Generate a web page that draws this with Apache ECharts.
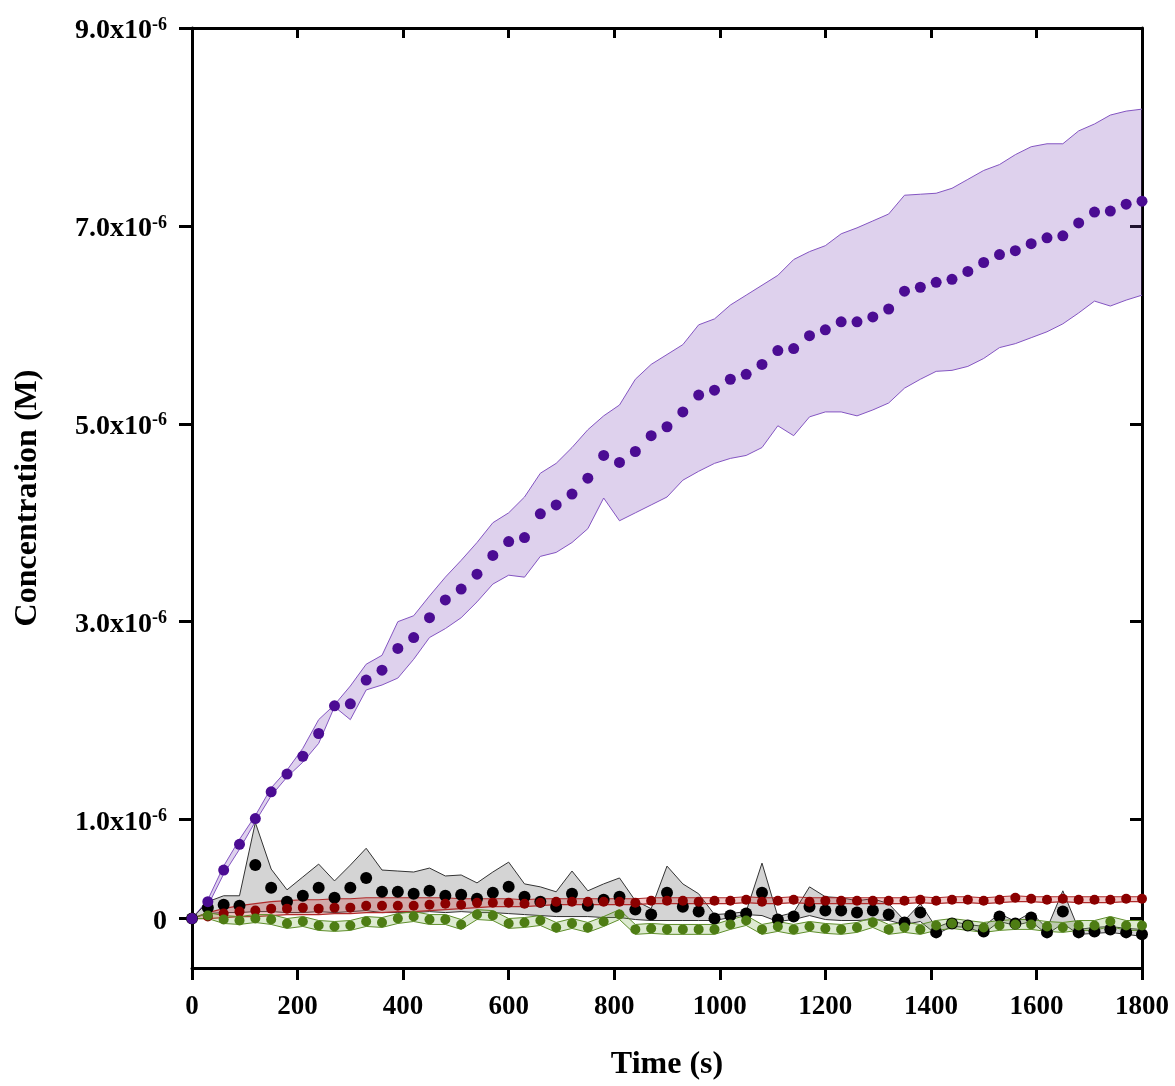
<!DOCTYPE html>
<html>
<head>
<meta charset="utf-8">
<title>Concentration vs time</title>
<script src="https://cdn.jsdelivr.net/npm/echarts@6/dist/echarts.min.js"></script>
<style>
  html, body { margin: 0; padding: 0; background: #fff; }
  #main { width: 1175px; height: 1086px; }
</style>
</head>
<body>
<div id="main"></div>
<script>
// all concentrations below are in units of 1e-6 M
const time = [0, 30, 60, 90, 120, 150, 180, 210, 240, 270, 300, 330, 360, 390, 420, 450, 480, 510, 540, 570,
  600, 630, 660, 690, 720, 750, 780, 810, 840, 870, 900, 930, 960, 990, 1020, 1050, 1080, 1110, 1140, 1170,
  1200, 1230, 1260, 1290, 1320, 1350, 1380, 1410, 1440, 1470, 1500, 1530, 1560, 1590, 1620, 1650, 1680, 1710, 1740, 1770, 1800];

// purple
const purpleMean = [0, 0.17, 0.49, 0.75, 1.01, 1.28, 1.46, 1.64, 1.87, 2.15, 2.17, 2.41, 2.51, 2.73, 2.84, 3.04, 3.22, 3.33, 3.48, 3.67,
  3.81, 3.85, 4.09, 4.18, 4.29, 4.45, 4.68, 4.61, 4.72, 4.88, 4.97, 5.12, 5.29, 5.34, 5.45, 5.50, 5.60, 5.74, 5.76, 5.89,
  5.95, 6.03, 6.03, 6.08, 6.16, 6.34, 6.38, 6.43, 6.46, 6.54, 6.63, 6.71, 6.75, 6.82, 6.88, 6.90, 7.03, 7.14, 7.15, 7.22, 7.25];
const purpleHigh = [0, 0.19, 0.53, 0.80, 1.04, 1.32, 1.50, 1.72, 2.01, 2.16, 2.35, 2.57, 2.66, 3.00, 3.06, 3.26, 3.45, 3.62, 3.80, 4.00,
  4.10, 4.26, 4.50, 4.60, 4.76, 4.94, 5.08, 5.19, 5.45, 5.60, 5.70, 5.80, 6.00, 6.06, 6.20, 6.30, 6.40, 6.50, 6.66, 6.74,
  6.80, 6.92, 6.98, 7.05, 7.12, 7.31, 7.32, 7.33, 7.38, 7.47, 7.56, 7.62, 7.72, 7.80, 7.83, 7.83, 7.96, 8.03, 8.12, 8.16, 8.18];
const purpleLow = [0, 0.13, 0.45, 0.70, 0.98, 1.24, 1.43, 1.58, 1.77, 2.14, 2.01, 2.31, 2.36, 2.43, 2.62, 2.84, 2.93, 3.04, 3.20, 3.38,
  3.47, 3.45, 3.66, 3.70, 3.80, 3.94, 4.25, 4.02, 4.10, 4.18, 4.26, 4.43, 4.52, 4.60, 4.65, 4.68, 4.76, 4.98, 4.88, 5.07,
  5.12, 5.12, 5.08, 5.14, 5.21, 5.36, 5.45, 5.53, 5.54, 5.58, 5.66, 5.77, 5.81, 5.87, 5.93, 6.01, 6.12, 6.24, 6.19, 6.25, 6.30];

// black / grey
const blackMean = [0, 0.11, 0.14, 0.13, 0.54, 0.31, 0.17, 0.23, 0.31, 0.21, 0.31, 0.41, 0.27, 0.27, 0.25, 0.28, 0.23, 0.24, 0.20, 0.26,
  0.32, 0.22, 0.17, 0.12, 0.25, 0.13, 0.19, 0.22, 0.09, 0.04, 0.26, 0.12, 0.07, 0, 0.03, 0.05, 0.26, -0.01, 0.02, 0.12,
  0.08, 0.08, 0.06, 0.08, 0.04, -0.04, 0.06, -0.14, -0.05, -0.07, -0.13, 0.02, -0.05, 0.01, -0.14, 0.07, -0.14, -0.13, -0.11, -0.14, -0.16];
const blackHigh = [0, 0.17, 0.23, 0.23, 0.97, 0.50, 0.29, 0.42, 0.55, 0.38, 0.54, 0.71, 0.49, 0.48, 0.47, 0.51, 0.43, 0.44, 0.36, 0.47,
  0.57, 0.35, 0.32, 0.27, 0.48, 0.28, 0.35, 0.41, 0.18, 0.10, 0.53, 0.35, 0.25, 0.04, 0.05, 0.07, 0.56, 0.02, 0.06, 0.32,
  0.22, 0.21, 0.18, 0.20, 0.15, -0.02, 0.15, -0.09, -0.03, -0.06, -0.08, 0.05, -0.03, 0.06, -0.10, 0.28, -0.11, -0.09, -0.08, -0.10, -0.11];
const blackLow = [0, 0.05, 0.06, 0.06, 0.07, 0.07, 0.06, 0.06, 0.07, 0.06, 0.07, 0.08, 0.06, 0.06, 0.06, 0.07, 0.06, 0.07, 0.06, 0.06,
  0.05, 0.04, 0.03, 0.02, 0.02, 0.02, 0.01, 0.01, -0.01, -0.02, -0.02, -0.02, -0.02, -0.02, 0.01, 0.04, 0.03, -0.03, -0.01, 0.03,
  -0.01, -0.02, -0.02, -0.01, -0.02, -0.06, -0.03, -0.16, -0.08, -0.09, -0.15, -0.03, -0.07, -0.03, -0.16, -0.05, -0.16, -0.15, -0.14, -0.16, -0.18];

// red
const redMean = [0, 0.02, 0.05, 0.07, 0.08, 0.10, 0.10, 0.11, 0.10, 0.11, 0.11, 0.13, 0.13, 0.13, 0.13, 0.14, 0.15, 0.14, 0.16, 0.16,
  0.16, 0.15, 0.16, 0.17, 0.17, 0.17, 0.17, 0.17, 0.16, 0.18, 0.18, 0.18, 0.17, 0.18, 0.18, 0.19, 0.17, 0.18, 0.19, 0.17,
  0.18, 0.18, 0.18, 0.18, 0.18, 0.18, 0.19, 0.18, 0.19, 0.19, 0.18, 0.19, 0.21, 0.20, 0.19, 0.20, 0.19, 0.19, 0.19, 0.20, 0.20];
const redHigh = [0, 0.06, 0.10, 0.13, 0.15, 0.17, 0.18, 0.19, 0.19, 0.20, 0.20, 0.21, 0.21, 0.21, 0.21, 0.21, 0.21, 0.20, 0.20, 0.20,
  0.20, 0.19, 0.20, 0.20, 0.20, 0.20, 0.20, 0.20, 0.20, 0.21, 0.21, 0.21, 0.21, 0.21, 0.21, 0.22, 0.21, 0.21, 0.22, 0.21,
  0.21, 0.21, 0.21, 0.21, 0.21, 0.21, 0.22, 0.21, 0.22, 0.22, 0.21, 0.22, 0.23, 0.22, 0.22, 0.22, 0.22, 0.22, 0.22, 0.22, 0.22];
const redLow = [0, 0, 0.01, 0.02, 0.02, 0.03, 0.04, 0.04, 0.04, 0.05, 0.05, 0.06, 0.06, 0.07, 0.07, 0.08, 0.09, 0.10, 0.11, 0.12,
  0.12, 0.12, 0.13, 0.14, 0.14, 0.14, 0.14, 0.14, 0.14, 0.15, 0.15, 0.15, 0.15, 0.15, 0.15, 0.16, 0.15, 0.15, 0.16, 0.15,
  0.15, 0.15, 0.15, 0.15, 0.15, 0.15, 0.16, 0.15, 0.16, 0.16, 0.15, 0.16, 0.17, 0.17, 0.16, 0.17, 0.16, 0.16, 0.16, 0.17, 0.17];

// green
const greenMean = [0, 0.03, -0.01, -0.02, 0, -0.01, -0.05, -0.03, -0.07, -0.08, -0.07, -0.03, -0.04, 0, 0.02, -0.01, -0.01, -0.06, 0.04, 0.03,
  -0.05, -0.04, -0.02, -0.09, -0.05, -0.09, -0.03, 0.04, -0.11, -0.10, -0.11, -0.11, -0.11, -0.11, -0.06, -0.02, -0.11, -0.08, -0.11, -0.08,
  -0.10, -0.11, -0.09, -0.04, -0.11, -0.09, -0.11, -0.07, -0.05, -0.07, -0.09, -0.07, -0.06, -0.06, -0.08, -0.09, -0.07, -0.07, -0.03, -0.07, -0.07];
const greenHigh = [0, 0.06, 0.03, 0.02, 0.04, 0.04, 0, 0.02, -0.02, -0.03, -0.02, 0.02, 0.01, 0.05, 0.07, 0.04, 0.04, -0.01, 0.09, 0.08,
  0, 0.01, 0.03, -0.04, 0, -0.04, 0.02, 0.09, -0.06, -0.05, -0.06, -0.06, -0.06, -0.06, -0.01, 0.03, -0.06, -0.03, -0.06, -0.03,
  -0.05, -0.06, -0.04, 0.01, -0.06, -0.04, -0.06, -0.02, 0, -0.02, -0.04, -0.02, -0.01, -0.01, -0.03, -0.04, -0.02, -0.02, 0.02, -0.02, -0.02];
const greenLow = [0, 0, -0.05, -0.06, -0.04, -0.06, -0.10, -0.08, -0.12, -0.13, -0.12, -0.08, -0.09, -0.05, -0.03, -0.06, -0.06, -0.11, -0.01, -0.02,
  -0.10, -0.09, -0.07, -0.14, -0.10, -0.14, -0.08, -0.01, -0.16, -0.15, -0.16, -0.16, -0.16, -0.16, -0.11, -0.07, -0.16, -0.13, -0.16, -0.13,
  -0.15, -0.16, -0.14, -0.09, -0.16, -0.14, -0.16, -0.12, -0.10, -0.12, -0.14, -0.12, -0.11, -0.11, -0.13, -0.14, -0.12, -0.12, -0.08, -0.12, -0.12];

const yTickValues = [0, 1, 3, 5, 7, 9];

const FONT = "'Liberation Serif', 'Times New Roman', serif";

function pairs(ys) {
  return time.map((t, i) => [t, ys[i]]);
}

// shaded band between low and high, with a thin edge line on both sides
function band(low, high, fill, line, lw) {
  return {
    type: 'custom', coordinateSystem: 'cartesian2d', silent: true,
    data: [[0, 0]],
    renderItem: function (params, api) {
      const top = time.map((t, i) => api.coord([t, high[i]]));
      const bottom = time.map((t, i) => api.coord([t, low[i]]));
      return {
        type: 'group',
        children: [
          { type: 'polygon', shape: { points: top.concat(bottom.slice().reverse()) }, style: { fill: fill } },
          { type: 'polyline', shape: { points: top }, style: { stroke: line, lineWidth: lw, fill: null } },
          { type: 'polyline', shape: { points: bottom }, style: { stroke: line, lineWidth: lw, fill: null } }
        ]
      };
    }
  };
}

function dots(ys, color, size) {
  return {
    type: 'scatter', data: pairs(ys), symbol: 'circle', symbolSize: size,
    itemStyle: { color: color, opacity: 1 }, silent: true
  };
}

const chart = echarts.init(document.getElementById('main'));

const option = {
  animation: false,
  backgroundColor: '#fff',
  grid: { left: 192, right: 33, top: 28, bottom: 110 },
  xAxis: [
    {
      type: 'value', min: 0, max: 1800, interval: 200, position: 'bottom',
      name: 'Time (s)', nameLocation: 'middle', nameGap: 81,
      nameTextStyle: { fontFamily: FONT, fontWeight: 'bold', fontSize: 32, color: '#000' },
      axisLine: { onZero: false, lineStyle: { color: '#000', width: 3 } },
      axisTick: { inside: false, length: 12, lineStyle: { color: '#000', width: 3 } },
      axisLabel: {
        margin: 26, fontFamily: FONT, fontWeight: 'bold', fontSize: 27, color: '#000',
        formatter: function (v) { return String(v); }
      },
      splitLine: { show: false }
    },
    {
      type: 'value', min: 0, max: 1800, interval: 200, position: 'top',
      axisLine: { onZero: false, lineStyle: { color: '#000', width: 3 } },
      axisTick: { inside: true, length: 10, lineStyle: { color: '#000', width: 3 } },
      axisLabel: { show: false },
      splitLine: { show: false }
    }
  ],
  yAxis: [
    {
      type: 'value', min: -0.5, max: 9, position: 'left',
      name: 'Concentration (M)', nameLocation: 'middle', nameGap: 148,
      nameTextStyle: { fontFamily: FONT, fontWeight: 'bold', fontSize: 32, color: '#000' },
      axisLine: { onZero: false, lineStyle: { color: '#000', width: 3 } },
      axisTick: { inside: false, length: 13, customValues: yTickValues, lineStyle: { color: '#000', width: 3 } },
      axisLabel: {
        margin: 25, customValues: yTickValues, padding: [6, 0, 0, 0],
        formatter: function (v) {
          if (v === 0) return '{m|0}';
          return '{m|' + v.toFixed(1) + 'x10}{s|-6}';
        },
        rich: {
          m: { fontFamily: FONT, fontWeight: 'bold', fontSize: 28, color: '#000', lineHeight: 30 },
          s: { fontFamily: FONT, fontWeight: 'bold', fontSize: 18, color: '#000', verticalAlign: 'top', lineHeight: 18 }
        }
      },
      splitLine: { show: false }
    },
    {
      type: 'value', min: -0.5, max: 9, position: 'right',
      axisLine: { onZero: false, lineStyle: { color: '#000', width: 3 } },
      axisTick: { inside: true, length: 12, customValues: yTickValues, lineStyle: { color: '#000', width: 3 } },
      axisLabel: { show: false },
      splitLine: { show: false }
    }
  ],
  series: [
    band(purpleLow, purpleHigh, 'rgba(125, 70, 185, 0.25)', '#8455c2', 1),
    band(blackLow, blackHigh, '#d4d4d4', '#333333', 1),
    band(redLow, redHigh, 'rgba(200, 60, 60, 0.28)', '#b02a2a', 1.2),
    band(greenLow, greenHigh, 'rgba(120, 170, 70, 0.25)', '#5f8f2b', 1),
    dots(blackMean, '#000000', 12),
    dots(redMean, '#8b0000', 10),
    dots(greenMean, '#4e7d14', 10),
    dots(purpleMean, '#4b0c93', 11)
  ]
};

chart.setOption(option);
</script>
</body>
</html>
